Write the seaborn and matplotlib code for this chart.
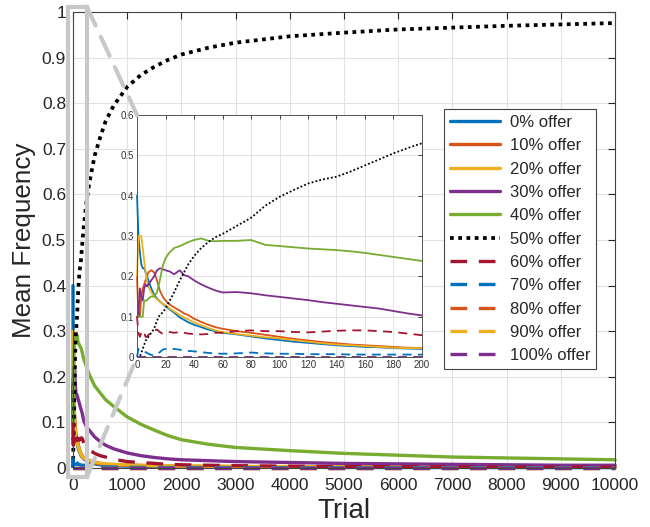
import numpy as np
import pandas as pd
import matplotlib
matplotlib.use('Agg')
import matplotlib.pyplot as plt
import seaborn as sns
from matplotlib.patches import Rectangle, ConnectionPatch

# trials: dense part (shown in the inset) and the long tail
trial_early = [0, 1, 2, 3, 4, 5, 6, 7, 8, 10, 12, 14, 16, 18, 20, 23, 26, 30, 33, 36,
               40, 45, 50, 55, 60, 70, 80, 90, 100, 110, 120, 130, 140, 150, 160, 170,
               180, 190, 200]
trial_late = [250, 300, 400, 500, 600, 750, 1000, 1250, 1500, 1750, 2000, 2500, 3000,
              4000, 5000, 6000, 7000, 8000, 9000, 10000]

freq_0 = [0.40, 0.30, 0.26, 0.23, 0.22, 0.22, 0.21, 0.20, 0.19, 0.17, 0.155, 0.145, 0.138,
          0.132, 0.126, 0.118, 0.11, 0.098, 0.092, 0.086, 0.08, 0.074, 0.068, 0.064, 0.060,
          0.056, 0.051, 0.046, 0.042, 0.038, 0.035, 0.032, 0.029, 0.027, 0.025, 0.024,
          0.022, 0.021, 0.020,
          0.016, 0.013, 0.009, 0.007, 0.006, 0.005, 0.004, 0.0035, 0.003, 0.0028, 0.0025,
          0.002, 0.002, 0.0015, 0.0012, 0.001, 0.001, 0.001, 0.0008, 0.0008]
freq_10 = [0.20, 0.10, 0.10, 0.15, 0.17, 0.18, 0.19, 0.20, 0.21, 0.215, 0.21, 0.19, 0.165,
           0.15, 0.14, 0.13, 0.123, 0.115, 0.108, 0.104, 0.095, 0.087, 0.08, 0.074, 0.07,
           0.064, 0.06, 0.055, 0.05, 0.045, 0.041, 0.037, 0.034, 0.031, 0.029, 0.027,
           0.025, 0.023, 0.022,
           0.018, 0.015, 0.011, 0.009, 0.008, 0.007, 0.006, 0.0055, 0.005, 0.0045, 0.004,
           0.0035, 0.003, 0.0025, 0.002, 0.002, 0.0018, 0.0016, 0.0015, 0.0014]
freq_20 = [0.20, 0.30, 0.30, 0.30, 0.27, 0.24, 0.21, 0.19, 0.175, 0.16, 0.15, 0.143, 0.137,
           0.132, 0.128, 0.12, 0.113, 0.104, 0.098, 0.093, 0.086, 0.079, 0.072, 0.066,
           0.062, 0.057, 0.053, 0.049, 0.046, 0.042, 0.038, 0.034, 0.031, 0.029, 0.027,
           0.025, 0.023, 0.022, 0.022,
           0.019, 0.017, 0.013, 0.011, 0.009, 0.008, 0.007, 0.006, 0.005, 0.0048, 0.0045,
           0.004, 0.0035, 0.003, 0.0025, 0.0022, 0.002, 0.0018, 0.0017, 0.0016]
freq_30 = [0.10, 0.10, 0.17, 0.15, 0.14, 0.17, 0.18, 0.175, 0.18, 0.19, 0.20, 0.215, 0.22,
           0.218, 0.215, 0.212, 0.205, 0.215, 0.203, 0.20, 0.19, 0.18, 0.172, 0.165, 0.16,
           0.161, 0.158, 0.153, 0.149, 0.145, 0.141, 0.136, 0.132, 0.128, 0.124, 0.12,
           0.114, 0.108, 0.103,
           0.09, 0.083, 0.068, 0.058, 0.05, 0.042, 0.033, 0.027, 0.023, 0.02, 0.018,
           0.016, 0.014, 0.012, 0.010, 0.009, 0.008, 0.007, 0.006, 0.006]
freq_40 = [0.10, 0.10, 0.10, 0.10, 0.10, 0.14, 0.14, 0.14, 0.145, 0.15, 0.15, 0.16, 0.19,
           0.225, 0.245, 0.26, 0.27, 0.275, 0.28, 0.285, 0.29, 0.294, 0.288, 0.287, 0.288,
           0.288, 0.29, 0.278, 0.275, 0.272, 0.269, 0.267, 0.265, 0.262, 0.258, 0.253,
           0.248, 0.243, 0.238,
           0.222, 0.205, 0.18, 0.165, 0.15, 0.135, 0.112, 0.096, 0.083, 0.071, 0.062,
           0.052, 0.045, 0.038, 0.032, 0.028, 0.024, 0.022, 0.020, 0.018]
freq_50 = [0.0, 0.0, 0.0, 0.01, 0.02, 0.03, 0.04, 0.045, 0.05, 0.06, 0.07, 0.09, 0.105,
           0.11, 0.12, 0.14, 0.16, 0.19, 0.21, 0.23, 0.25, 0.27, 0.285, 0.297, 0.305,
           0.325, 0.345, 0.375, 0.397, 0.414, 0.43, 0.44, 0.447, 0.46, 0.475, 0.49, 0.505,
           0.518, 0.53,
           0.585, 0.625, 0.685, 0.725, 0.76, 0.795, 0.836, 0.862, 0.88, 0.895, 0.907,
           0.922, 0.933, 0.947, 0.955, 0.962, 0.966, 0.970, 0.973, 0.976]
freq_60 = [0.10, 0.06, 0.05, 0.06, 0.065, 0.06, 0.05, 0.05, 0.055, 0.06, 0.066, 0.068,
           0.062, 0.058, 0.06, 0.062, 0.06, 0.062, 0.06, 0.058, 0.057, 0.056, 0.057, 0.06,
           0.06, 0.064, 0.066, 0.064, 0.064, 0.062, 0.061, 0.063, 0.065, 0.066, 0.066,
           0.064, 0.062, 0.058, 0.054,
           0.045, 0.04, 0.032, 0.027, 0.024, 0.019, 0.014, 0.012, 0.01, 0.008, 0.007,
           0.006, 0.005, 0.004, 0.003, 0.003, 0.0025, 0.002, 0.002, 0.002]
freq_70 = [0.0, 0.02, 0.02, 0.018, 0.017, 0.015, 0.012, 0.01, 0.008, 0.005, 0.004, 0.006,
           0.012, 0.018, 0.02, 0.02, 0.02, 0.018, 0.016, 0.015, 0.014, 0.012, 0.01, 0.009,
           0.008, 0.009, 0.011, 0.009, 0.008, 0.008, 0.007, 0.007, 0.007, 0.006, 0.006,
           0.006, 0.006, 0.006, 0.006,
           0.005, 0.004, 0.003, 0.003, 0.002, 0.002, 0.0015, 0.0012, 0.001, 0.001, 0.001,
           0.001, 0.0008, 0.0006, 0.0005, 0.0005, 0.0005, 0.0005, 0.0005, 0.0005]
# 80%, 90% and 100% offers stay at zero for the whole run
trial_flat = [0, 200, 10000]
freq_flat = [0.0, 0.0, 0.0]

labels = ['0% offer', '10% offer', '20% offer', '30% offer', '40% offer', '50% offer',
          '60% offer', '70% offer', '80% offer', '90% offer', '100% offer']

colors = ['#0072BD', '#D95319', '#EDB120', '#7E2F8E', '#77AC30', 'black',
          '#A2142F', '#0072BD', '#D95319', '#EDB120', '#7E2F8E']
solid = '-'
dotted = (0, (1, 1.2))
dashed = (0, (5, 3.5))
styles = [solid] * 5 + [dotted] + [dashed] * 5

trial_all = trial_early + trial_late
series = [
    (trial_all, freq_0), (trial_all, freq_10), (trial_all, freq_20), (trial_all, freq_30),
    (trial_all, freq_40), (trial_all, freq_50), (trial_all, freq_60), (trial_all, freq_70),
    (trial_flat, freq_flat), (trial_flat, freq_flat), (trial_flat, freq_flat),
]

sns.set_style('white')
plt.rcParams['font.family'] = ['Liberation Sans', 'DejaVu Sans']

fig = plt.figure(figsize=(6.5, 5.27), dpi=100)
ax = fig.add_axes([0.1123, 0.112, 0.834, 0.865])
axin = fig.add_axes([0.2108, 0.3226, 0.4384, 0.4592])

edge = '#262626'
gridc = '#e2e2e2'

for (tx, fy), lab, col, ls in zip(series, labels, colors, styles):
    df = pd.DataFrame({'Trial': tx, 'Freq': fy})
    lw = 2.7 if ls == dotted else 2.4
    sns.lineplot(data=df, x='Trial', y='Freq', ax=ax, color=col, lw=lw, linestyle=ls,
                 label=lab, clip_on=False, legend=False)
    small = df[df['Trial'] <= 200]
    sns.lineplot(data=small, x='Trial', y='Freq', ax=axin, color=col, lw=1.3,
                 linestyle=ls, clip_on=False, legend=False)

# main axes, MATLAB look
ax.set_xlim(0, 10000)
ax.set_ylim(0, 1)
ax.set_xticks(np.arange(0, 10001, 1000))
ax.set_yticks(np.arange(0, 1.01, 0.1))
ax.set_yticklabels(['0', '0.1', '0.2', '0.3', '0.4', '0.5', '0.6', '0.7', '0.8', '0.9', '1'])
ax.grid(True, color=gridc, lw=0.8)
ax.tick_params(direction='in', top=True, right=True, length=5, width=0.8,
               labelsize=12.5, colors=edge, labelcolor='#262626')
ax.tick_params(axis='x', pad=7.5)
ax.tick_params(axis='y', pad=5)
for s in ax.spines.values():
    s.set_color('#444444')
    s.set_linewidth(0.8)
ax.set_xlabel('Trial', fontsize=20, color='#262626', labelpad=3)
ax.set_ylabel('Mean Frequency', fontsize=18.7, color='#262626', labelpad=4)

# inset
axin.set_xlim(0, 200)
axin.set_ylim(0, 0.6)
axin.set_xticks(np.arange(0, 201, 20))
axin.set_yticks(np.arange(0, 0.61, 0.1))
axin.set_yticklabels(['0', '0.1', '0.2', '0.3', '0.4', '0.5', '0.6'])
axin.set_facecolor('white')
axin.grid(True, color=gridc, lw=0.7)
axin.tick_params(direction='in', top=True, right=True, length=3, width=0.6,
                 labelsize=7, colors=edge, labelcolor='#333333', pad=2)
axin.set_xlabel('')
axin.set_ylabel('')
for s in axin.spines.values():
    s.set_color('#555555')
    s.set_linewidth(0.7)

# zoom box and connector lines
zx0, zx1, zy0, zy1 = -90, 255, -0.02, 1.012
ax.add_patch(Rectangle((zx0, zy0), zx1 - zx0, zy1 - zy0, fill=False, ec='#c8c8c8',
                       lw=3, clip_on=False, zorder=5))
for xyA, xyB in [((zx1, zy1), (0, 1)), ((zx1, zy0), (0, 0))]:
    con = ConnectionPatch(xyA=xyA, coordsA=ax.transData, xyB=xyB, coordsB=axin.transAxes,
                          color='#c8c8c8', lw=3, linestyle=(0, (5, 3)), zorder=4)
    fig.add_artist(con)

leg = ax.legend(loc='upper left', bbox_to_anchor=(0.683, 0.793),
                bbox_transform=fig.transFigure, fontsize=12, handlelength=3.0,
                frameon=True, fancybox=False, framealpha=1, edgecolor='#444444',
                borderpad=0.35, labelspacing=0.5, handletextpad=0.6, borderaxespad=0)
leg.get_frame().set_linewidth(0.8)
leg.set_zorder(10)

fig.savefig('out.png', dpi=100)
